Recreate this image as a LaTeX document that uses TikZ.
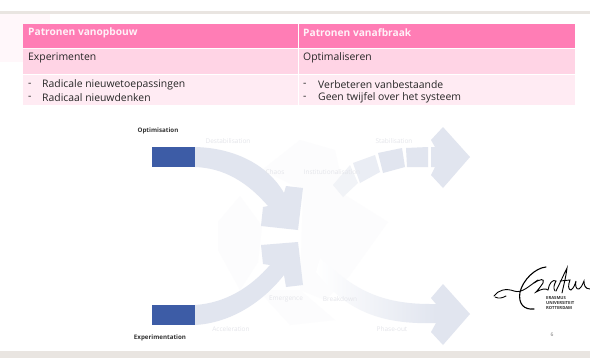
\documentclass[tikz,border=0pt]{standalone}
\usepackage{fontspec}
\setmainfont{Open Sans}
\definecolor{hdr}{HTML}{FF7DB5}
\definecolor{rowa}{HTML}{FFD4E5}
\definecolor{rowb}{HTML}{FFEBF3}
\definecolor{band}{HTML}{E9E5E1}
\definecolor{pale}{HTML}{E1E5EF}
\definecolor{blueb}{HTML}{3D5CA6}
\definecolor{ghost}{HTML}{E4E5EA}
\definecolor{faint}{HTML}{FCFCFD}
\definecolor{blush}{HTML}{FFF7FA}
\tikzset{
 cell/.style={anchor=west,inner sep=0pt,font=\fontsize{10.4}{12}\selectfont,text=black!85},
 headcell/.style={anchor=west,inner sep=0pt,font=\fontsize{10.2}{12}\selectfont\bfseries,text=white!90!hdr},
 tag/.style={inner sep=0pt,font=\fontsize{6.2}{7}\selectfont\bfseries,text=black!80},
 ghosttag/.style={inner sep=0pt,font=\fontsize{6.5}{8}\selectfont,text=ghost},
 logotext/.style={anchor=west,inner sep=0pt,font=\fontsize{4.2}{5}\selectfont\bfseries,text=black!80},
 sig/.style={line cap=round,black,line width=0.9pt},
 paleshape/.style={fill=pale,draw=none},
 blueblock/.style={fill=blueb,draw=none}
}
\begin{document}
\begin{tikzpicture}[x=1pt,y=-1pt]
\useasboundingbox (0,0) rectangle (590,360);
\fill[white] (0,0) rectangle (590,360);
% page edges
\fill[band] (0,11) rectangle (590,13.5);
\fill[band] (0,351) rectangle (590,358);
\fill[blush] (0,14) rectangle (50,62);
% table
\fill[hdr] (23,24) rectangle (297.5,48);
\fill[hdr] (299,24) rectangle (575,48);
\fill[rowa] (23,49) rectangle (297.5,74);
\fill[rowa] (299,49) rectangle (575,74);
\fill[rowb] (23,75) rectangle (297.5,105);
\fill[rowb] (299,75) rectangle (575,105);
\node[headcell] (h1) at (28,32.5) {Patronen vanopbouw};
\node[headcell] (h2) at (303,32.5) {Patronen vanafbraak};
\node[cell] (c1) at (28,58) {Experimenten};
\node[cell] (c2) at (303,58) {Optimaliseren};
\node[cell] (d1) at (28,84.5) {-};
\node[cell] (t1) at (42,84.5) {Radicale nieuwetoepassingen};
\node[cell] (d2) at (28,97.5) {-};
\node[cell] (t2) at (42,97.5) {Radicaal nieuwdenken};
\node[cell] (d3) at (303,84.5) {-};
\node[cell] (t3) at (318,84.5) {Verbeteren vanbestaande};
\node[cell] (d4) at (303,97.5) {-};
\node[cell] (t4) at (318,97.5) {Geen twijfel over het systeem};
% faint central arrows
\fill[faint] (218,222) -- (240,196) -- (262,226) -- (258,262) -- (240,290) -- (218,250) -- cycle;
\fill[faint] (262,170) -- (300,140) -- (335,150) -- (345,195) -- (388,222) -- (350,275) -- (325,300) -- (300,290) -- (303,190) -- cycle;
\fill[faint] (258,290) -- (300,290) -- (335,320) -- (290,325) -- cycle;
% top-left arrow
\fill[paleshape] (195,147) .. controls (235,148) and (268,165) .. (284,193)
  -- (286,186) -- (303,188) -- (298,230) -- (261,226) -- (263,207) -- (268,206)
  .. controls (248,183) and (225,168) .. (195,167) -- cycle;
% bottom-left arrow
\fill[paleshape] (195,325) .. controls (230,323) and (262,303) .. (284,275)
  -- (286,287) -- (303,285) -- (298,242) -- (261,245) -- (263,264) -- (270,265)
  .. controls (250,288) and (225,303) .. (195,305) -- cycle;
% blue blocks
\fill[blueblock] (152,147) rectangle (195,167);
\fill[blueblock] (152,305) rectangle (195,325);
% top-right arrow
\fill[faint!60!pale] (333,185) -- (350,165) -- (358,183) -- (343,197) -- cycle;
\fill[pale!70!white] (353,163) -- (375,155) -- (380,172) -- (360,183) -- cycle;
\fill[paleshape] (378,153) -- (402,148) -- (405,167) -- (383,173) -- cycle;
\fill[paleshape] (406,148) -- (428,147) -- (428,167) -- (407,167) -- cycle;
\fill[paleshape] (443,127) -- (470,157) -- (443,188) -- (431,175) -- (435,167) -- (431,167)
  -- (431,147) -- (435,147) -- (431,140) -- cycle;
% bottom-right arrow
\shade[left color=white,right color=pale] (320,258) .. controls (350,285) and (375,304) .. (430,304)
  -- (436,304) -- (436,323)
  .. controls (380,325) and (345,310) .. (316,272) -- cycle;
\fill[paleshape] (443,284) -- (470,314) -- (443,345) -- (431,332) -- (436,323) -- (436,304) -- (431,298) -- cycle;
% labels
\node[tag] (opt) at (158,131) {Optimisation};
\node[tag] (exp) at (160,338) {Experimentation};
\node[ghosttag] (destab) at (228,141) {Destabilisation};
\node[ghosttag] (chaos) at (275,172) {Chaos};
\node[ghosttag] (inst) at (332,172) {Institutionalisation};
\node[ghosttag] (stab) at (394,141) {Stabilisation};
\node[ghosttag] (emer) at (286,299) {Emergence};
\node[ghosttag] (brk) at (340,299) {Breakdown};
\node[ghosttag] (acc) at (231,329) {Acceleration};
\node[ghosttag] (pho) at (392,329) {Phase-out};
% logo
\draw[sig] (494,296) .. controls (498,290) and (506,288) .. (514,291) .. controls (522,294) and (530,285) .. (538,280);
\draw[sig] (495,297) .. controls (499,299) and (502,298) .. (506,296);
\draw[sig,line width=1.1pt] (546,267) .. controls (535,268) and (523,280) .. (520,292) .. controls (518,304) and (524,310) .. (534,309);
\draw[sig] (534,283) .. controls (540,279) and (545,278) .. (543,283) .. controls (541,286) and (538,290) .. (536,292) .. controls (541,289) and (546,288) .. (548,290);
\draw[sig] (548,290) .. controls (549,283) and (553,279) .. (556,281) .. controls (554,285) and (553,288) .. (555,291);
\draw[sig] (556,291) .. controls (560,283) and (564,274) .. (567,268) .. controls (566,277) and (563,288) .. (562,293);
\draw[sig] (560,281) -- (570,280) .. controls (568,285) and (568,290) .. (571,290) .. controls (574,288) and (575,284) .. (576,281) .. controls (575,285) and (576,290) .. (579,289) .. controls (582,287) and (583,283) .. (584,281) .. controls (584,285) and (585,289) .. (590,289);
\node[logotext] (l1) at (546,298) {ERASMUS};
\node[logotext] (l2) at (546,303) {UNIVERSITEIT};
\node[logotext] (l3) at (546,308) {ROTTERDAM};
\node[inner sep=0pt,font=\fontsize{5}{6}\selectfont,text=black!55] (pg) at (552,335) {6};
\end{tikzpicture}
\end{document}
